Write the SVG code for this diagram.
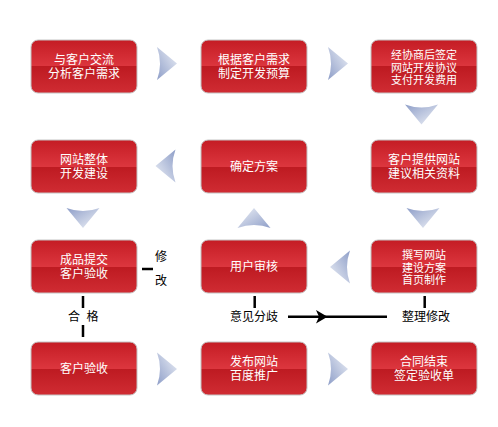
<svg xmlns="http://www.w3.org/2000/svg" xmlns:xlink="http://www.w3.org/1999/xlink" width="498" height="427" viewBox="0 0 498 427">
<defs>
<linearGradient id="boxg" x1="0" y1="0" x2="0" y2="1">
<stop offset="0" stop-color="#c41c24"/>
<stop offset="0.5" stop-color="#dc363e"/>
<stop offset="0.5" stop-color="#bd1a21"/>
<stop offset="1" stop-color="#d02c33"/>
</linearGradient>
<linearGradient id="arrg" x1="0" y1="1" x2="1" y2="0">
<stop offset="0" stop-color="#8e9ec8"/>
<stop offset="1" stop-color="#eef1f7"/>
</linearGradient>
<path id="chev" d="M -10 -16.5 L 10 0 L -10 16.5 Q -4 0 -10 -16.5 Z" fill="url(#arrg)"/>
</defs>
<style>
.box{fill:url(#boxg);stroke:#c4c4c4;stroke-width:1}
.bt{fill:#fff;font-family:"Noto Sans CJK SC","Noto Sans",sans-serif;font-size:12px;text-anchor:middle}
.b3{font-size:11px}
.lb{fill:#000;font-family:"Noto Sans CJK SC","Noto Sans",sans-serif;font-size:12px;text-anchor:middle}
.ln{stroke:#000;stroke-width:2.5;fill:none}
</style>
<rect width="498" height="427" fill="#fff"/>

<g id="n1"><rect class="box" x="31" y="40" width="106" height="53" rx="7"/><text class="bt"><tspan x="84" y="64">与客户交流</tspan><tspan x="84" y="77.5">分析客户需求</tspan></text></g>
<g id="n2"><rect class="box" x="201" y="40" width="106" height="53" rx="7"/><text class="bt"><tspan x="254" y="64">根据客户需求</tspan><tspan x="254" y="77.5">制定开发预算</tspan></text></g>
<g id="n3"><rect class="box" x="371" y="40" width="106" height="53" rx="7"/><text class="bt b3"><tspan x="424" y="59">经协商后签定</tspan><tspan x="424" y="71.5">网站开发协议</tspan><tspan x="424" y="84">支付开发费用</tspan></text></g>

<g id="n4"><rect class="box" x="31" y="140" width="106" height="53" rx="7"/><text class="bt"><tspan x="84" y="164">网站整体</tspan><tspan x="84" y="177.5">开发建设</tspan></text></g>
<g id="n5"><rect class="box" x="201" y="140" width="106" height="53" rx="7"/><text class="bt" x="254" y="171">确定方案</text></g>
<g id="n6"><rect class="box" x="371" y="140" width="106" height="53" rx="7"/><text class="bt"><tspan x="424" y="164">客户提供网站</tspan><tspan x="424" y="177.5">建议相关资料</tspan></text></g>

<g id="n7"><rect class="box" x="31" y="240" width="106" height="53" rx="7"/><text class="bt"><tspan x="84" y="264">成品提交</tspan><tspan x="84" y="277.5">客户验收</tspan></text></g>
<g id="n8"><rect class="box" x="201" y="240" width="106" height="53" rx="7"/><text class="bt" x="254" y="271">用户审核</text></g>
<g id="n9"><rect class="box" x="371" y="240" width="106" height="53" rx="7"/><text class="bt b3"><tspan x="424" y="259">撰写网站</tspan><tspan x="424" y="271.5">建设方案</tspan><tspan x="424" y="284">首页制作</tspan></text></g>

<g id="n10"><rect class="box" x="31" y="342" width="106" height="53" rx="7"/><text class="bt" x="84" y="373">客户验收</text></g>
<g id="n11"><rect class="box" x="201" y="342" width="106" height="53" rx="7"/><text class="bt"><tspan x="254" y="366">发布网站</tspan><tspan x="254" y="379.5">百度推广</tspan></text></g>
<g id="n12"><rect class="box" x="371" y="342" width="106" height="53" rx="7"/><text class="bt"><tspan x="424" y="366">合同结束</tspan><tspan x="424" y="379.5">签定验收单</tspan></text></g>

<g id="connectors">
<use xlink:href="#chev" transform="translate(167,63.5)"/>
<use xlink:href="#chev" transform="translate(338,63.5)"/>
<use xlink:href="#chev" transform="translate(421.5,114.5) rotate(90)"/>
<use xlink:href="#chev" transform="translate(423,218) rotate(90)"/>
<use xlink:href="#chev" transform="translate(165.5,166) rotate(180)"/>
<use xlink:href="#chev" transform="translate(83,218) rotate(90)"/>
<use xlink:href="#chev" transform="translate(254,218) rotate(-90)"/>
<use xlink:href="#chev" transform="translate(340,267) rotate(180)"/>
<use xlink:href="#chev" transform="translate(167,369)"/>
<use xlink:href="#chev" transform="translate(338,369)"/>

<line class="ln" x1="142" y1="269" x2="153" y2="269"/>
<line class="ln" x1="83" y1="296" x2="83" y2="308"/>
<line class="ln" x1="83" y1="325" x2="83" y2="337"/>
<line class="ln" x1="254.7" y1="296" x2="254.7" y2="308"/>
<line class="ln" x1="424.7" y1="296" x2="424.7" y2="308"/>
<line class="ln" x1="288" y1="316.7" x2="387" y2="316.7"/>
<path d="M316,310 L327.5,316.7 L316,323.4 L319,316.7 Z" fill="#000"/>
</g>

<g id="labels">
<text class="lb"><tspan x="161" y="261">修</tspan><tspan x="161" y="284.5">改</tspan></text>
<text class="lb"><tspan x="74" y="320.5">合</tspan><tspan x="92.5" y="320.5">格</tspan></text>
<text class="lb" x="254" y="321">意见分歧</text>
<text class="lb" x="426" y="321">整理修改</text>
</g>
</svg>
